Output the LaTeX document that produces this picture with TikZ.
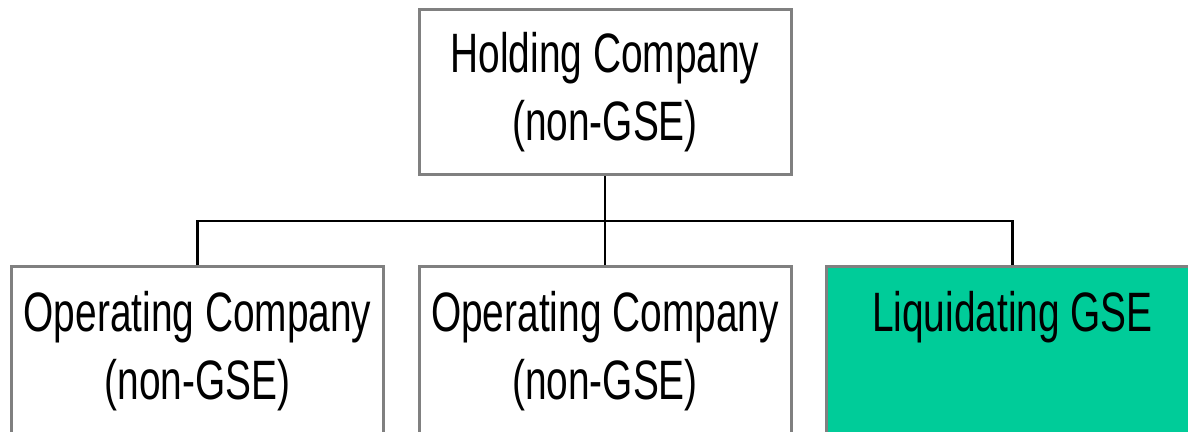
\documentclass[tikz,border=0pt]{standalone}
\usepackage{fontspec}
\setmainfont{Liberation Sans}[FakeStretch=0.7]
\definecolor{boxgray}{RGB}{128,128,128}
\definecolor{gsegreen}{RGB}{0,204,153}

\begin{document}
\begin{tikzpicture}[x=1pt, y=-1pt,
	org/.style={draw=boxgray, line width=3pt, minimum width=372pt, minimum height=165pt,
		align=center, inner sep=0pt, font=\fontsize{55.5}{68}\selectfont},
	link/.style={line width=2.6pt}]
	\clip (0,0) rectangle (1188,431);
	\node[org] (hold) at (605, 92) {Holding Company\\(non-GSE)};
	\node[org, minimum height=170pt] (opA) at (197.5, 351.5) {Operating Company\\(non-GSE)};
	\node[org, minimum height=170pt] (opB) at (605, 351.5) {Operating Company\\(non-GSE)};
	\node[org, minimum height=170pt, fill=gsegreen] (liq) at (1012.5, 351.5) {Liquidating GSE\\\phantom{(non-GSE)}};
	\coordinate (fork) at (605, 221);
	\draw[link] (hold.south) -- (fork)
		(opA.north) |- (fork)
		(opB.north) -- (fork)
		(liq.north) |- (fork);
\end{tikzpicture}
\end{document}
